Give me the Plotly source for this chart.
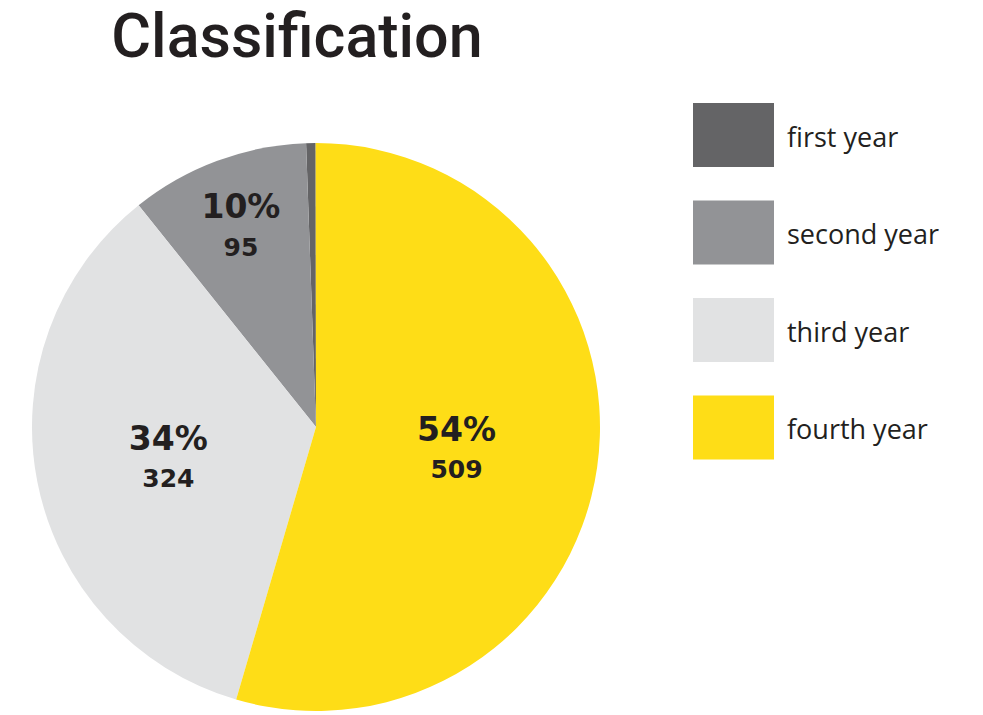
import plotly.graph_objects as go

# data
labels = ["first year", "second year", "third year", "fourth year"]
counts = [5, 95, 324, 509]
pct_labels = ["", "10%", "34%", "54%"]
colors = ["#646466", "#929396", "#e1e2e3", "#fedd17"]

W, H = 983, 715
ink = "#231f20"


def px(x):
    return x / W


def py(y):
    return 1 - y / H


texts = []
for p, c in zip(pct_labels, counts):
    if p:
        texts.append(
            f"<span style='font-size:33px'><b>{p}</b></span><br>"
            f"<span style='font-size:25px'><b>{c}</b></span>"
        )
    else:
        texts.append("")

fig = go.Figure(
    go.Pie(
        labels=labels,
        values=counts,
        text=texts,
        texttemplate="%{text}",
        textposition="inside",
        insidetextorientation="horizontal",
        marker=dict(colors=colors, line=dict(width=0)),
        sort=False,
        direction="counterclockwise",
        rotation=-2,
        textfont=dict(family="DejaVu Sans, sans-serif", size=29, color=ink),
        domain=dict(x=[px(32), px(600)], y=[py(711), py(143)]),
        hoverinfo="label+value+percent",
        showlegend=False,
    )
)

# hand-drawn legend with large swatches
for i, (lab, col) in enumerate(zip(labels, colors)):
    top = 103 + i * 97.5
    fig.add_shape(
        type="rect", xref="paper", yref="paper",
        x0=px(693), x1=px(774), y0=py(top + 64), y1=py(top),
        fillcolor=col, line=dict(width=0),
    )
    fig.add_annotation(
        x=px(785), y=py(top + 33), xref="paper", yref="paper",
        text=lab, showarrow=False, xanchor="left", yanchor="middle",
        font=dict(family="Open Sans, sans-serif", size=27, color=ink),
    )

fig.update_layout(
    width=W,
    height=H,
    margin=dict(l=0, r=0, t=0, b=0),
    paper_bgcolor="white",
    plot_bgcolor="white",
    title=dict(
        text="Classification",
        x=px(297), xanchor="center",
        y=py(36), yanchor="middle",
        font=dict(family="Roboto, sans-serif", size=61, color=ink, weight=500),
    ),
)

# drop the default 8px body margin so the figure sits flush with the window
fig.write_html(
    "out.html",
    config={"displayModeBar": False},
    post_script="document.body.style.margin = '0';",
)
